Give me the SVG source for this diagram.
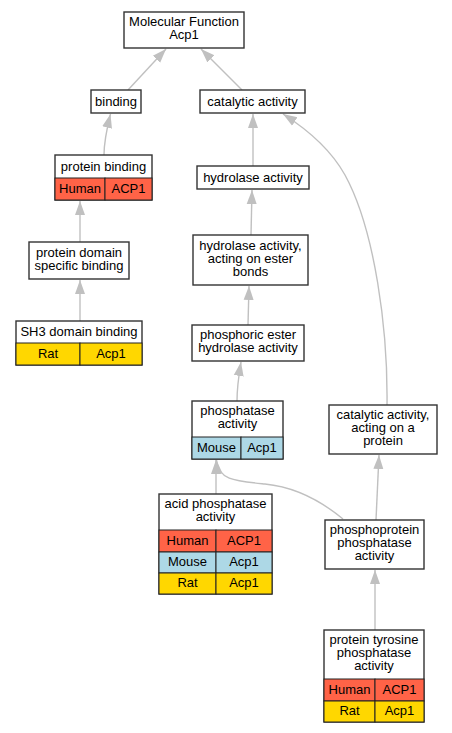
<svg xmlns="http://www.w3.org/2000/svg" width="452" height="733" viewBox="0 0 452 733">
<defs>
<marker id="ah" markerUnits="userSpaceOnUse" markerWidth="15" markerHeight="12" refX="14" refY="5.5" orient="auto">
<path d="M0,0.5 L14,5.5 L0,10.5 z" fill="#c0c0c0"/>
</marker>
<style>
text{font-family:"Liberation Sans",Arial,sans-serif;font-size:13px;fill:#000;text-anchor:middle}
.box{fill:#fff;stroke:#333;stroke-width:1.4}
.cell{stroke:#222;stroke-width:1}
.hu{fill:#ff6347}
.mo{fill:#add8e6}
.ra{fill:#ffd700}
.e{fill:none;stroke:#c0c0c0;stroke-width:1.4;marker-end:url(#ah)}
</style>
</defs>
<rect width="452" height="733" fill="#fff"/>
<g id="edges">
<path class="e" d="M128,90 L166,49"/>
<path class="e" d="M242,90 L201,49"/>
<path class="e" d="M104,155 C104,140 107,128 110.5,114"/>
<path class="e" d="M80,242 L80,201"/>
<path class="e" d="M80,321 L80,280"/>
<path class="e" d="M253,166 L253,114"/>
<path class="e" d="M251,235 L252,190"/>
<path class="e" d="M248,325 L249,286"/>
<path class="e" d="M237,401 C237,386 239,374 241,362"/>
<path class="e" d="M216,494 L216,460"/>
<path class="e" d="M343,519 C320,500 295,487 265,484 C235,481 218,480 216.5,460"/>
<path class="e" d="M387,405 C388,330 375,230 345,175 C330,148 305,128 283,114"/>
<path class="e" d="M376,520 L379,455"/>
<path class="e" d="M375,630 L375,570"/>
</g>
<g id="mf">
<rect class="box" x="124" y="12" width="120" height="36"/>
<text x="184" y="26">Molecular Function<tspan x="184" dy="13">Acp1</tspan></text>
</g>
<g id="binding">
<rect class="box" x="91" y="90" width="50" height="23"/>
<text x="116" y="106">binding</text>
</g>
<g id="catalytic">
<rect class="box" x="200" y="90" width="105" height="23"/>
<text x="252.5" y="106">catalytic activity</text>
</g>
<g id="protein_binding">
<rect class="box" x="55" y="155" width="97" height="45"/>
<text x="103.5" y="171">protein binding</text>
<rect class="cell hu" x="55" y="178" width="50" height="22"/>
<rect class="cell hu" x="105" y="178" width="47" height="22"/>
<text x="80" y="193">Human</text>
<text x="128.5" y="193">ACP1</text>
</g>
<g id="hydrolase">
<rect class="box" x="197" y="166" width="112" height="23"/>
<text x="253" y="182">hydrolase activity</text>
</g>
<g id="protein_domain">
<rect class="box" x="29" y="242" width="100" height="37"/>
<text x="79" y="257">protein domain<tspan x="79" dy="13">specific binding</tspan></text>
</g>
<g id="hydrolase_ester">
<rect class="box" x="193" y="235" width="115" height="50"/>
<text x="250.5" y="249.5">hydrolase activity,<tspan x="250.5" dy="13">acting on ester</tspan><tspan x="250.5" dy="13">bonds</tspan></text>
</g>
<g id="sh3">
<rect class="box" x="16" y="321" width="126" height="44"/>
<text x="79" y="335.5">SH3 domain binding</text>
<rect class="cell ra" x="16" y="343" width="64" height="22"/>
<rect class="cell ra" x="80" y="343" width="62" height="22"/>
<text x="48" y="358">Rat</text>
<text x="111" y="358">Acp1</text>
</g>
<g id="phosphoric">
<rect class="box" x="192" y="325" width="112" height="36"/>
<text x="248" y="339">phosphoric ester<tspan x="248" dy="13">hydrolase activity</tspan></text>
</g>
<g id="phosphatase">
<rect class="box" x="192" y="401" width="91" height="58"/>
<text x="237.5" y="415">phosphatase<tspan x="237.5" dy="13">activity</tspan></text>
<rect class="cell mo" x="192" y="437" width="49" height="22"/>
<rect class="cell mo" x="241" y="437" width="42" height="22"/>
<text x="216.5" y="452">Mouse</text>
<text x="262" y="452">Acp1</text>
</g>
<g id="catalytic_protein">
<rect class="box" x="329" y="405" width="108" height="49"/>
<text x="383" y="418.5">catalytic activity,<tspan x="383" dy="13">acting on a</tspan><tspan x="383" dy="13">protein</tspan></text>
</g>
<g id="acid">
<rect class="box" x="159" y="494" width="113" height="100"/>
<text x="215.5" y="508">acid phosphatase<tspan x="215.5" dy="13">activity</tspan></text>
<rect class="cell hu" x="159" y="530" width="57" height="22"/>
<rect class="cell hu" x="216" y="530" width="56" height="22"/>
<text x="187.5" y="545">Human</text>
<text x="244" y="545">ACP1</text>
<rect class="cell mo" x="159" y="552" width="57" height="21"/>
<rect class="cell mo" x="216" y="552" width="56" height="21"/>
<text x="187.5" y="566">Mouse</text>
<text x="244" y="566">Acp1</text>
<rect class="cell ra" x="159" y="573" width="57" height="21"/>
<rect class="cell ra" x="216" y="573" width="56" height="21"/>
<text x="187.5" y="587">Rat</text>
<text x="244" y="587">Acp1</text>
</g>
<g id="phosphoprotein">
<rect class="box" x="325" y="520" width="99" height="49"/>
<text x="374.5" y="533.5">phosphoprotein<tspan x="374.5" dy="13">phosphatase</tspan><tspan x="374.5" dy="13">activity</tspan></text>
</g>
<g id="tyrosine">
<rect class="box" x="324" y="630" width="100" height="92"/>
<text x="374" y="644">protein tyrosine<tspan x="374" dy="13">phosphatase</tspan><tspan x="374" dy="13">activity</tspan></text>
<rect class="cell hu" x="324" y="679" width="51" height="22"/>
<rect class="cell hu" x="375" y="679" width="49" height="22"/>
<text x="349.5" y="694">Human</text>
<text x="399.5" y="694">ACP1</text>
<rect class="cell ra" x="324" y="701" width="51" height="21"/>
<rect class="cell ra" x="375" y="701" width="49" height="21"/>
<text x="349.5" y="715">Rat</text>
<text x="399.5" y="715">Acp1</text>
</g>
</svg>
